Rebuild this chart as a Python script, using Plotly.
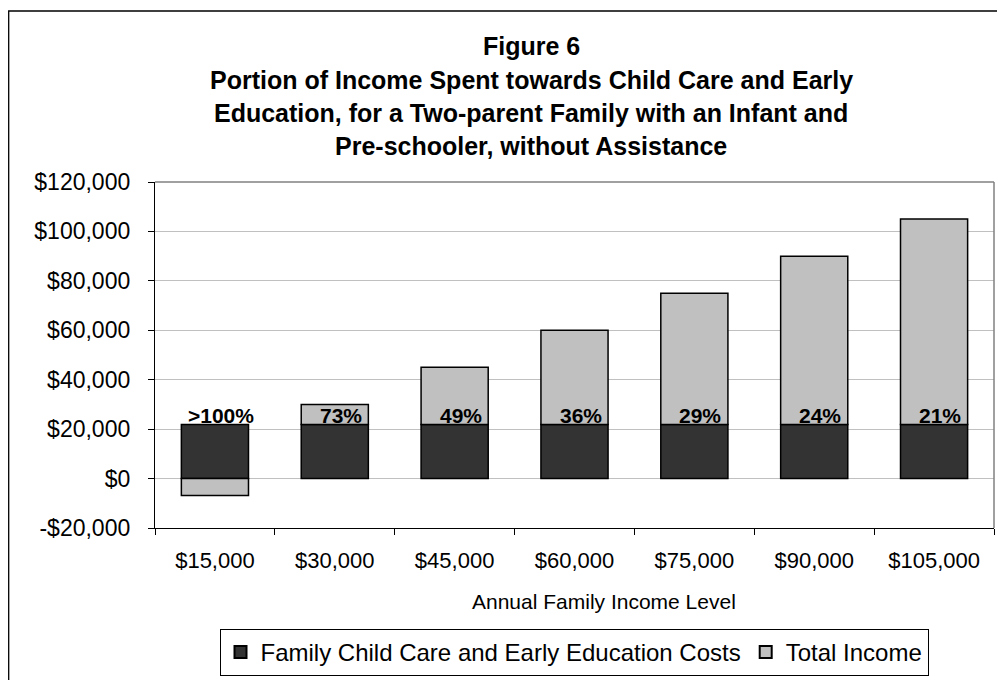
import plotly.graph_objects as go

categories = ["$15,000", "$30,000", "$45,000", "$60,000", "$75,000", "$90,000", "$105,000"]
income = [15000, 30000, 45000, 60000, 75000, 90000, 105000]
care_cost = [21860, 21860, 21860, 21860, 21860, 21860, 21860]
pct_labels = [">100%", "73%", "49%", "36%", "29%", "24%", "21%"]
y_tickvals = [-20000, 0, 20000, 40000, 60000, 80000, 100000, 120000]
y_ticktext = ["-$20,000", "$0", "$20,000", "$40,000", "$60,000", "$80,000", "$100,000", "$120,000"]
title_lines = [
    "Figure 6",
    "Portion of Income Spent towards Child Care and Early",
    "Education, for a Two-parent Family with an Infant and",
    "Pre-schooler, without Assistance",
]

remaining = [i - c for i, c in zip(income, care_cost)]

# page body has an 8px margin; work in page pixel coordinates
OFF = 8
W, H = 1005 - OFF, 680 - OFF
PLOT_L, PLOT_R, PLOT_T, PLOT_B = 155, 994, 182, 528  # page coords
L = PLOT_L - OFF
T = PLOT_T - OFF
R = W - (PLOT_R - OFF)
B = H - (PLOT_B - OFF)
PW, PH = PLOT_R - PLOT_L, PLOT_B - PLOT_T

def px_x(x):
    return (x - PLOT_L) / PW

def px_y(y):
    return (PLOT_B - y) / PH

FONT = "Liberation Sans, Arial, sans-serif"

fig = go.Figure()
fig.add_trace(go.Bar(
    x=categories, y=care_cost, name="Family Child Care and Early Education Costs",
    marker=dict(color="#333333", line=dict(color="black", width=1.5)),
))
fig.add_trace(go.Bar(
    x=categories, y=remaining, name="Total Income",
    marker=dict(color="#c0c0c0", line=dict(color="black", width=1.5)),
))

annotations = []
for cat, c, t in zip(categories, care_cost, pct_labels):
    annotations.append(dict(
        x=cat, y=c, xref="x", yref="y", text=t, showarrow=False,
        xanchor="center", yanchor="bottom", xshift=6, yshift=-4,
        font=dict(family=FONT, size=21, color="black", weight="bold"),
    ))

title_y = [46, 80, 113, 146]
for line, yy in zip(title_lines, title_y):
    annotations.append(dict(
        x=px_x(531), y=px_y(yy), xref="paper", yref="paper", text="<b>" + line + "</b>",
        showarrow=False, xanchor="center", yanchor="middle",
        font=dict(family=FONT, size=25, color="black"),
    ))

annotations.append(dict(
    x=px_x(604), y=px_y(601), xref="paper", yref="paper", text="Annual Family Income Level",
    showarrow=False, xanchor="center", yanchor="middle",
    font=dict(family=FONT, size=21, color="black"),
))

shapes = [
    dict(type="rect", xref="paper", yref="paper", x0=px_x(8.7), x1=px_x(1012),
         y0=px_y(690), y1=px_y(11), line=dict(color="black", width=1.3)),
    dict(type="line", xref="paper", yref="paper", x0=0, x1=1, y0=1, y1=1,
         line=dict(color="#808080", width=1.5)),
    dict(type="line", xref="paper", yref="paper", x0=1, x1=1, y0=0, y1=1,
         line=dict(color="#808080", width=1.5)),
]

fig.update_layout(
    width=W, height=H,
    margin=dict(l=L, r=R, t=T, b=B, autoexpand=False),
    paper_bgcolor="white", plot_bgcolor="white",
    barmode="relative", bargap=0.44,
    font=dict(family=FONT, size=21, color="black"),
    showlegend=True,
    legend=dict(
        orientation="h", x=px_x(574), xanchor="center", y=px_y(676), yanchor="bottom",
        bordercolor="black", borderwidth=1, bgcolor="white",
        font=dict(family=FONT, size=24, color="black"),
        itemsizing="constant", traceorder="normal",
    ),
    annotations=annotations,
    shapes=shapes,
)

fig.update_xaxes(
    type="category", showgrid=False, showline=True, linecolor="black", linewidth=1.3,
    ticks="outside", tickson="boundaries", ticklen=6, tickcolor="black",
    tickfont=dict(family=FONT, size=22, color="black"), ticklabelstandoff=12,
    zeroline=False, automargin=False,
)
fig.update_yaxes(
    range=[-20000, 120000], tickvals=y_tickvals, ticktext=y_ticktext,
    showgrid=True, gridcolor="#c0c0c0", gridwidth=1,
    showline=True, linecolor="black", linewidth=1.3,
    ticks="outside", ticklen=6, tickcolor="black",
    tickfont=dict(family=FONT, size=23, color="black"), ticklabelstandoff=13,
    zeroline=False, automargin=False,
)

fig.write_html("out.html")
